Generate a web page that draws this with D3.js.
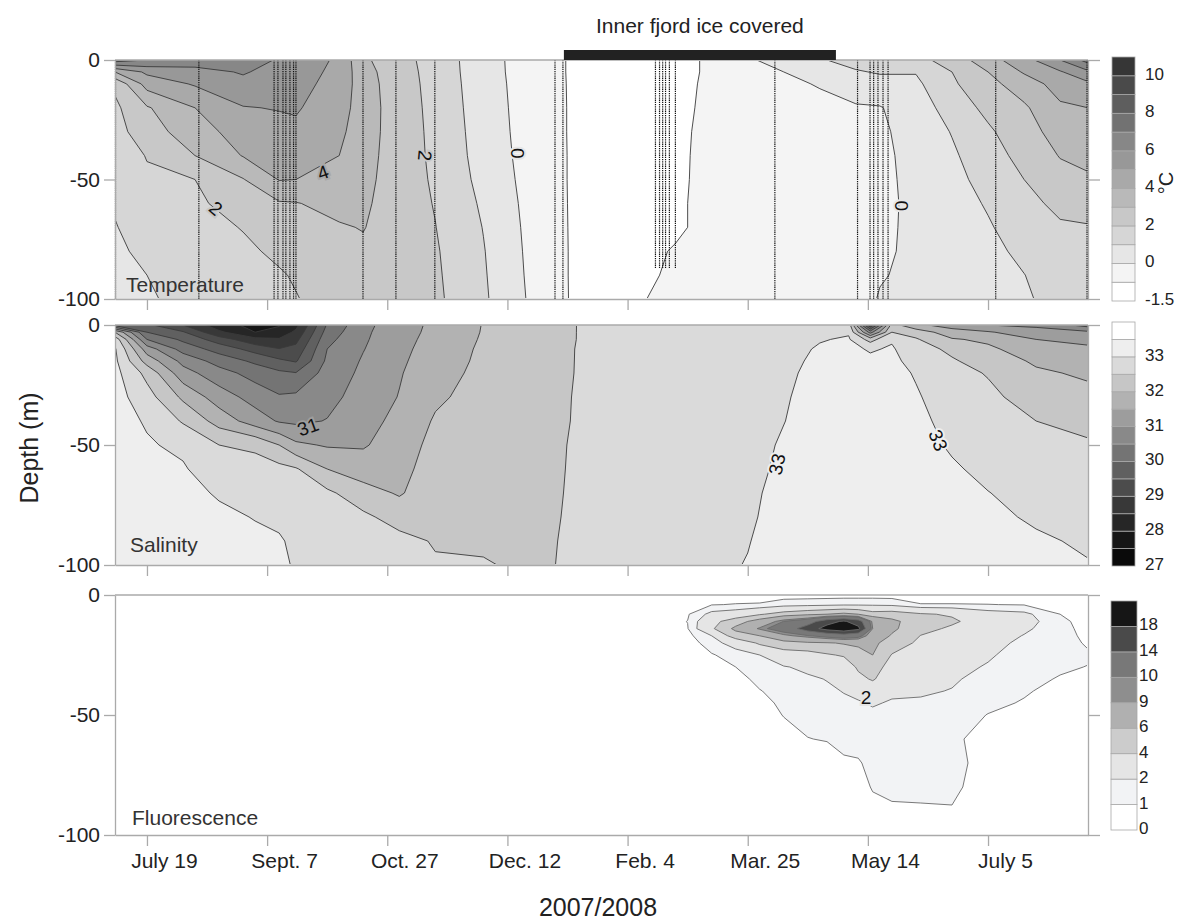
<!DOCTYPE html>
<html>
<head>
<meta charset="utf-8">
<script src="https://cdn.jsdelivr.net/npm/d3@7"></script>
<style>
  body { margin: 0; background: #fff; }
  text { font-family: "Liberation Sans", Arial, Helvetica, sans-serif; fill: #222; }
</style>
</head>
<body>
<div id="chart"></div>
<script>
// x axis: days after July 19 2007, labels every ~50 days
const tickDays = [0, 50, 100, 150, 200, 250, 300, 350];
const tickLabels = ["July 19", "Sept. 7", "Oct. 27", "Dec. 12", "Feb. 4", "Mar. 25", "May 14", "July 5"];
const dayRange = [-13.3, 391.6];
const iceCover = [173.5, 286.7];

// CTD casts (dotted lines on the temperature section)
const castDays = [-13.1, 21.6, 52.9, 54.5, 56.6, 57.8, 59.5, 61, 62, 89.9, 103.6, 119.8, 169.8, 173.1,
  211.6, 213.3, 214.6, 215.8, 217.4, 219.9, 261.3, 295.7, 300.9, 302.4, 304.2, 306.3, 308.4, 353.2, 391.2];
const castDepth = [-100, -100, -100, -100, -100, -100, -100, -100, -100, -100, -100, -100, -100, -100,
  -87, -87, -87, -87, -87, -87, -100, -100, -100, -100, -100, -100, -100, -100, -100];

// ---- temperature (deg C), one column per day, values top -> bottom
const tempDepths = [0, -5, -10, -20, -30, -40, -50, -60, -70, -80, -90, -100];
const tempDays = [-13.3, 0, 20, 40, 55, 62, 80, 90, 100, 120, 140, 160, 172, 180, 200, 220, 240, 250, 265, 280, 295, 305, 320, 335, 350, 365, 380, 391.6];
const tempCols = [
  [7.5, 4.0, 2.2, 1.8, 1.6, 1.4, 1.3, 1.1, 0.95, 0.8, 0.7, 0.6],
  [7.0, 5.2, 4.4, 2.9, 2.6, 2.05, 1.85, 1.65, 1.45, 1.25, 1.0, 0.9],
  [6.6, 5.6, 5.1, 4.0, 3.5, 3.0, 2.0, 1.8, 1.6, 1.5, 1.4, 1.3],
  [6.5, 6.1, 5.7, 4.95, 4.5, 4.05, 2.95, 2.5, 2.05, 1.8, 1.6, 1.5],
  [5.9, 5.6, 5.4, 5.05, 4.7, 4.3, 4.05, 2.9, 2.5, 2.2, 1.9, 1.8],
  [5.7, 5.5, 5.35, 5.1, 4.8, 4.4, 4.0, 2.95, 2.6, 2.35, 2.1, 1.95],
  [4.8, 4.7, 4.6, 4.4, 4.2, 4.0, 3.7, 3.35, 2.9, 2.7, 2.6, 2.5],
  [3.2, 3.4, 3.5, 3.55, 3.5, 3.45, 3.35, 3.2, 3.05, 2.8, 2.7, 2.6],
  [2.6, 2.7, 2.75, 2.8, 2.8, 2.75, 2.7, 2.65, 2.6, 2.55, 2.5, 2.4],
  [1.6, 1.62, 1.65, 1.7, 1.75, 1.8, 1.87, 1.95, 2.02, 2.1, 2.15, 2.2],
  [0.4, 0.42, 0.45, 0.5, 0.55, 0.6, 0.7, 0.85, 0.97, 1.05, 1.1, 1.15],
  [-0.5, -0.5, -0.48, -0.46, -0.44, -0.4, -0.36, -0.32, -0.28, -0.24, -0.2, -0.15],
  [-0.92, -0.92, -0.91, -0.9, -0.9, -0.89, -0.89, -0.88, -0.87, -0.86, -0.86, -0.85],
  [-1.2, -1.2, -1.2, -1.2, -1.2, -1.2, -1.2, -1.2, -1.2, -1.2, -1.2, -1.2],
  [-1.3, -1.3, -1.3, -1.3, -1.3, -1.3, -1.3, -1.3, -1.3, -1.25, -1.2, -1.1],
  [-1.3, -1.3, -1.25, -1.2, -1.15, -1.13, -1.12, -1.1, -1.1, -0.95, -0.9, -0.85],
  [-0.7, -0.7, -0.7, -0.7, -0.7, -0.7, -0.7, -0.7, -0.7, -0.7, -0.7, -0.7],
  [-0.1, -0.2, -0.3, -0.4, -0.45, -0.48, -0.5, -0.5, -0.52, -0.53, -0.54, -0.55],
  [0.3, 0.0, -0.15, -0.3, -0.4, -0.42, -0.44, -0.46, -0.47, -0.48, -0.49, -0.5],
  [0.9, 0.4, 0.05, -0.2, -0.35, -0.38, -0.4, -0.42, -0.43, -0.44, -0.45, -0.45],
  [1.4, 0.9, 0.5, -0.1, -0.3, -0.33, -0.35, -0.35, -0.33, -0.3, -0.3, -0.3],
  [1.6, 1.1, 0.6, -0.05, -0.15, -0.2, -0.2, -0.2, -0.15, -0.1, -0.05, 0.05],
  [1.7, 1.05, 0.8, 0.46, 0.35, 0.28, 0.22, 0.18, 0.15, 0.12, 0.15, 0.2],
  [2.4, 2.0, 1.85, 1.45, 1.05, 0.85, 0.7, 0.55, 0.45, 0.4, 0.35, 0.3],
  [3.6, 3.0, 2.7, 2.25, 1.85, 1.6, 1.35, 1.1, 0.9, 0.7, 0.6, 0.5],
  [4.6, 4.1, 3.5, 2.85, 2.6, 2.3, 2.0, 1.75, 1.5, 1.25, 0.98, 0.85],
  [6.0, 4.9, 4.4, 3.85, 3.4, 3.05, 2.65, 2.2, 1.9, 1.7, 1.55, 1.4],
  [7.4, 5.8, 4.8, 4.0, 3.6, 3.2, 2.9, 2.3, 1.95, 1.75, 1.6, 1.5]
];
const tempLevels = [-1.5, -1, 0, 1, 2, 3, 4, 5, 6, 7, 8, 9, 10, 11];
const tempColors = ["#ffffff", "#f4f4f4", "#e6e6e6", "#d6d6d6", "#c8c8c8", "#b9b9b9", "#a9a9a9",
  "#989898", "#878787", "#727272", "#5e5e5e", "#4a4a4a", "#363636"];
const tempBarTicks = [-1.5, 0, 2, 4, 6, 8, 10];
const tempLabels = [
  {t: "2", day: 28.7, depth: -62, rot: 40, level: 2},
  {t: "4", day: 73.2, depth: -47, rot: -20, level: 4},
  {t: "2", day: 115.7, depth: -40, rot: 95, level: 2},
  {t: "0", day: 154.4, depth: -39, rot: 90, level: 0},
  {t: "0", day: 314.2, depth: -61, rot: 90, level: 0}
];

// ---- salinity
const salDepths = [0, -3, -6, -10, -15, -20, -30, -40, -50, -60, -70, -80, -90, -100];
const salDays = [-13.3, 0, 15, 30, 45, 55, 62, 75, 90, 105, 120, 140, 160, 180, 220, 250, 265, 280, 292, 301, 310, 320, 335, 350, 370, 391.6];
const salCols = [
  [29.8, 32.0, 32.8, 33.05, 33.1, 33.15, 33.2, 33.2, 33.25, 33.25, 33.3, 33.3, 33.3, 33.3],
  [29.6, 30.0, 30.5, 31.25, 31.8, 32.35, 32.7, 32.95, 33.05, 33.1, 33.15, 33.2, 33.2, 33.25],
  [29.0, 29.55, 29.9, 30.3, 30.85, 31.2, 31.9, 32.45, 32.9, 33.05, 33.15, 33.2, 33.2, 33.25],
  [28.2, 28.6, 29.25, 29.8, 30.3, 30.7, 31.25, 31.8, 32.5, 32.7, 32.95, 33.1, 33.15, 33.2],
  [27.85, 28.0, 28.65, 29.3, 29.9, 30.3, 30.8, 31.25, 32.4, 32.7, 32.85, 32.98, 33.1, 33.15],
  [27.95, 28.2, 28.55, 29.02, 29.6, 30.1, 30.55, 30.95, 32.0, 32.65, 32.8, 32.9, 33.05, 33.1],
  [28.35, 28.6, 28.85, 29.15, 29.45, 30.02, 30.6, 30.9, 31.6, 32.55, 32.7, 32.8, 32.9, 32.95],
  [30.05, 30.2, 30.35, 30.5, 30.6, 30.7, 30.85, 31.02, 31.45, 32.0, 32.6, 32.75, 32.85, 32.9],
  [30.85, 30.9, 30.93, 30.98, 31.05, 31.1, 31.2, 31.3, 31.45, 31.75, 32.2, 32.6, 32.75, 32.85],
  [31.3, 31.32, 31.35, 31.38, 31.42, 31.46, 31.52, 31.65, 31.75, 31.85, 31.95, 32.3, 32.65, 32.75],
  [31.6, 31.62, 31.65, 31.7, 31.75, 31.82, 31.92, 32.05, 32.15, 32.22, 32.3, 32.38, 32.46, 32.55],
  [32.02, 32.03, 32.05, 32.08, 32.1, 32.12, 32.18, 32.22, 32.27, 32.32, 32.37, 32.42, 32.46, 32.52],
  [32.2, 32.21, 32.22, 32.23, 32.25, 32.27, 32.3, 32.33, 32.36, 32.38, 32.4, 32.42, 32.44, 32.45],
  [32.52, 32.52, 32.52, 32.53, 32.53, 32.53, 32.54, 32.54, 32.55, 32.55, 32.55, 32.55, 32.55, 32.55],
  [32.7, 32.7, 32.7, 32.7, 32.7, 32.7, 32.72, 32.72, 32.73, 32.74, 32.75, 32.76, 32.77, 32.78],
  [32.75, 32.76, 32.77, 32.78, 32.79, 32.8, 32.82, 32.83, 32.84, 32.85, 32.9, 32.93, 32.98, 33.02],
  [32.75, 32.77, 32.8, 32.83, 32.87, 32.9, 32.95, 32.99, 33.05, 33.1, 33.15, 33.18, 33.2, 33.2],
  [32.85, 32.9, 32.97, 33.05, 33.1, 33.15, 33.2, 33.2, 33.22, 33.22, 33.23, 33.24, 33.25, 33.25],
  [32.8, 32.95, 33.05, 33.12, 33.17, 33.2, 33.22, 33.22, 33.23, 33.23, 33.24, 33.24, 33.25, 33.25],
  [29.0, 30.8, 32.3, 32.95, 33.1, 33.15, 33.2, 33.22, 33.23, 33.23, 33.24, 33.24, 33.25, 33.25],
  [32.2, 32.5, 32.95, 33.05, 33.1, 33.15, 33.2, 33.22, 33.23, 33.23, 33.24, 33.24, 33.25, 33.25],
  [31.6, 32.3, 32.55, 32.7, 32.85, 32.96, 33.05, 33.12, 33.15, 33.18, 33.2, 33.22, 33.23, 33.25],
  [31.3, 31.7, 32.05, 32.4, 32.55, 32.65, 32.75, 32.85, 32.95, 33.05, 33.1, 33.15, 33.2, 33.22],
  [31.0, 31.55, 31.9, 32.1, 32.3, 32.47, 32.6, 32.7, 32.8, 32.9, 33.01, 33.08, 33.12, 33.15],
  [30.9, 31.2, 31.5, 31.7, 31.92, 32.08, 32.3, 32.5, 32.65, 32.75, 32.85, 32.95, 33.05, 33.1],
  [30.3, 31.1, 31.35, 31.6, 31.75, 31.92, 32.15, 32.38, 32.55, 32.65, 32.75, 32.85, 32.95, 33.02]
];
const salLevels = [27, 27.5, 28, 28.5, 29, 29.5, 30, 30.5, 31, 31.5, 32, 32.5, 33, 33.5, 34];
const salColors = ["#0a0a0a", "#161616", "#262626", "#383838", "#4c4c4c", "#606060", "#747474",
  "#898989", "#9d9d9d", "#b2b2b2", "#c6c6c6", "#dadada", "#eeeeee", "#ffffff"];
const salBarTicks = [27, 28, 29, 30, 31, 32, 33];
const salLabels = [
  {t: "31", day: 67, depth: -42.5, rot: -20, level: 31},
  {t: "33", day: 262.2, depth: -58, rot: -78, level: 33},
  {t: "33", day: 329.2, depth: -48, rot: 68, level: 33}
];

// ---- fluorescence
const fluoDepths = [0, -4, -8, -11, -14, -17, -20, -25, -30, -35, -40, -45, -50, -60, -70, -80, -90, -100];
const fluoDays = [-13.3, 200, 225, 235, 245, 255, 265, 275, 283, 290, 296, 302, 310, 322, 335, 350, 365, 380, 391.6];
const fluoCols = [
  [0, 0, 0, 0, 0, 0, 0, 0, 0, 0, 0, 0, 0, 0, 0, 0, 0, 0],
  [0, 0, 0, 0, 0, 0, 0, 0, 0, 0, 0, 0, 0, 0, 0, 0, 0, 0],
  [0, 0.3, 0.9, 1.02, 0.95, 0.7, 0.4, 0.1, 0, 0, 0, 0, 0, 0, 0, 0, 0, 0],
  [0.5, 0.95, 2.4, 3.4, 3.7, 2.0, 1.6, 0.9, 0.5, 0.2, 0, 0, 0, 0, 0, 0, 0, 0],
  [0.5, 1.05, 2.8, 5.0, 6.5, 5.0, 2.5, 1.5, 1.0, 0.6, 0.3, 0.1, 0, 0, 0, 0, 0, 0],
  [0.5, 1.1, 3.8, 7.0, 9.3, 6.0, 4.3, 2.0, 1.6, 1.3, 0.95, 0.7, 0.4, 0.1, 0, 0, 0, 0],
  [0.6, 1.5, 4.8, 10.05, 11.5, 8.5, 5.0, 3.2, 1.9, 1.6, 1.4, 1.2, 1.05, 0.5, 0.1, 0, 0, 0],
  [0.6, 1.6, 5.5, 12.0, 16.0, 9.8, 5.6, 3.2, 2.3, 1.8, 1.6, 1.4, 1.25, 0.98, 0.6, 0.2, 0, 0],
  [0.6, 1.7, 6.0, 16.5, 19.5, 11.0, 5.8, 3.8, 2.6, 2.05, 1.8, 1.6, 1.45, 1.05, 0.6, 0.2, 0, 0],
  [0.6, 1.8, 6.5, 18.5, 21.0, 12.0, 6.2, 4.2, 2.8, 2.3, 2.05, 1.8, 1.6, 1.3, 0.85, 0.4, 0, 0],
  [0.6, 1.8, 6.0, 16.0, 19.0, 11.0, 6.5, 5.0, 4.3, 3.5, 2.3, 1.9, 1.7, 1.4, 0.9, 0.5, 0.1, 0],
  [0.6, 1.8, 4.8, 8.5, 9.0, 7.5, 6.5, 6.0, 4.8, 4.2, 2.8, 2.1, 1.8, 1.5, 1.3, 1.1, 0.6, 0],
  [0.6, 1.7, 5.0, 6.5, 6.4, 5.8, 5.0, 3.9, 3.3, 2.8, 2.2, 1.9, 1.7, 1.5, 1.3, 1.15, 0.9, 0],
  [0.5, 1.05, 4.2, 4.8, 4.6, 3.95, 3.6, 3.2, 2.8, 2.5, 2.15, 1.85, 1.7, 1.5, 1.35, 1.2, 0.9, 0],
  [0.5, 1.05, 3.8, 4.3, 3.7, 3.2, 2.9, 2.6, 2.35, 2.15, 1.95, 1.7, 1.3, 1.2, 1.4, 1.3, 0.9, 0],
  [0.5, 1.02, 2.6, 3.0, 2.9, 2.6, 2.4, 2.15, 1.9, 1.6, 1.35, 1.15, 0.98, 0.6, 0.5, 0.3, 0, 0],
  [0.4, 0.95, 2.3, 2.5, 2.2, 1.95, 1.75, 1.5, 1.35, 1.2, 1.07, 0.95, 0.7, 0.3, 0.1, 0, 0, 0],
  [0.3, 0.6, 1.0, 1.3, 1.4, 1.4, 1.35, 1.25, 1.1, 0.95, 0.8, 0.6, 0.45, 0.2, 0, 0, 0, 0],
  [0.1, 0.2, 0.35, 0.5, 0.6, 0.75, 0.9, 1.1, 0.98, 0.8, 0.6, 0.4, 0.3, 0.1, 0, 0, 0, 0]
];
const fluoLevels = [0, 1, 2, 4, 6, 9, 10, 14, 18, 22];
const fluoColors = ["#ffffff", "#f2f3f5", "#e5e5e5", "#cccccc", "#b0b0b0", "#8e8e8e", "#787878", "#4a4a4a", "#161616"];
const fluoBarTicks = [0, 1, 2, 4, 6, 9, 10, 14, 18];
const fluoLabels = [
  {t: "2", day: 299.2, depth: -42.5, rot: 0, level: 2}
];

const panels = [
  {name: "Temperature", days: tempDays, depths: tempDepths, cols: tempCols, levels: tempLevels,
   colors: tempColors, barTicks: tempBarTicks, labels: tempLabels, top: 60, bottom: 299,
   bar: [57, 301], barX: 1112, barW: 23, tickX: 1145, line: "#3a3a3a", nameX: 126, nameY: 292},
  {name: "Salinity", days: salDays, depths: salDepths, cols: salCols, levels: salLevels,
   colors: salColors, barTicks: salBarTicks, labels: salLabels, top: 325, bottom: 565,
   bar: [322, 566], barX: 1112, barW: 23, tickX: 1145, line: "#3a3a3a", nameX: 130, nameY: 552},
  {name: "Fluorescence", days: fluoDays, depths: fluoDepths, cols: fluoCols, levels: fluoLevels,
   colors: fluoColors, barTicks: fluoBarTicks, labels: fluoLabels, top: 595, bottom: 835,
   bar: [601, 830], barX: 1111, barW: 26, tickX: 1139, line: "#6a6a6a", nameX: 132, nameY: 825}
];

const svg = d3.select("#chart").append("svg")
  .attr("width", 1184)
  .attr("height", 924);

const x = d3.scaleLinear().domain(dayRange).range([115, 1088]);
const frame = "#aaaaaa";

panels.forEach((p, idx) => {
  const y = d3.scaleLinear().domain([0, -100]).range([p.top, p.bottom]);
  const g = svg.append("g");

  // grid -> flat array, x fastest
  const n = p.days.length, m = p.depths.length;
  const values = [];
  for (let j = 0; j < m; j++) for (let i = 0; i < n; i++) values.push(p.cols[i][j]);

  // contour grid coordinates (cell centres at i+0.5) to pixels
  const gx = d3.scaleLinear()
    .domain([0, ...p.days.map((d, i) => i + 0.5), n])
    .range([x(p.days[0]), ...p.days.map(d => x(d)), x(p.days[n - 1])]);
  const gy = d3.scaleLinear()
    .domain([0, ...p.depths.map((d, j) => j + 0.5), m])
    .range([y(p.depths[0]), ...p.depths.map(d => y(d)), y(p.depths[m - 1])]);
  const path = d3.geoPath(d3.geoTransform({
    point: function(px, py) { this.stream.point(gx(px), gy(py)); }
  }));

  const bands = d3.contours()
    .size([n, m])
    .thresholds(p.levels.slice(0, -1))(values);

  g.append("rect")
    .attr("x", 115).attr("y", p.top)
    .attr("width", 1088 - 115).attr("height", p.bottom - p.top)
    .attr("fill", "#fff");

  g.selectAll("path.band")
    .data(bands)
    .enter().append("path")
      .attr("class", "band")
      .attr("d", path)
      .attr("fill", (d, i) => p.colors[i])
      .attr("fill-rule", "evenodd");

  // iso lines, clipped a hair inside the frame so the grid edge does not show
  svg.append("clipPath").attr("id", "clip" + idx)
    .append("rect")
      .attr("x", 116).attr("y", p.top + 1)
      .attr("width", 1088 - 117).attr("height", p.bottom - p.top - 2);
  g.append("g")
    .attr("clip-path", `url(#clip${idx})`)
    .selectAll("path")
    .data(bands.slice(1))
    .enter().append("path")
      .attr("d", path)
      .attr("fill", "none")
      .attr("stroke", p.line)
      .attr("stroke-width", 0.9);

  // casts
  if (idx == 0) {
    g.selectAll("line.cast")
      .data(castDays)
      .enter().append("line")
        .attr("class", "cast")
        .attr("x1", d => x(d)).attr("x2", d => x(d))
        .attr("y1", y(0))
        .attr("y2", (d, i) => y(castDepth[i]))
        .attr("stroke", "#111")
        .attr("stroke-width", 1.2)
        .attr("stroke-dasharray", "1.3,0.9");
  }

  // contour labels
  p.labels.forEach(l => {
    const k = p.levels.indexOf(l.level);
    g.append("text")
      .attr("transform", `translate(${x(l.day)},${y(l.depth)}) rotate(${l.rot})`)
      .attr("text-anchor", "middle")
      .attr("dy", "0.35em")
      .style("font-size", "19px")
      .style("fill", "#111")
      .style("stroke", p.colors[k])
      .style("stroke-width", 4)
      .style("paint-order", "stroke")
      .text(l.t);
  });

  // frame and axes
  g.append("line")
    .attr("x1", 115).attr("x2", 1088)
    .attr("y1", p.top).attr("y2", p.top)
    .attr("stroke", frame).attr("stroke-width", 1.3);

  const left = g.append("g")
    .attr("transform", "translate(115,0)")
    .call(d3.axisLeft(y).tickValues([0, -50, -100]).tickSize(11).tickSizeOuter(0).tickPadding(4)
      .tickFormat(d => String(d)));
  left.selectAll("text").style("font-size", "21px");

  const right = g.append("g")
    .attr("transform", "translate(1088,0)")
    .call(d3.axisRight(y).tickValues([0, -50, -100]).tickSize(12).tickSizeOuter(0).tickFormat(""));

  const bottom = g.append("g")
    .attr("transform", `translate(0,${p.bottom})`)
    .call(d3.axisBottom(x).tickValues(tickDays).tickSize(11).tickSizeOuter(0).tickPadding(7)
      .tickFormat((d, i) => idx == 2 ? tickLabels[i] : ""));
  bottom.selectAll("text").style("font-size", "21px").attr("dx", 17);

  [left, right, bottom].forEach(a => {
    a.select(".domain").attr("stroke", frame).attr("stroke-width", 1.3);
    a.selectAll(".tick line").attr("stroke", frame).attr("stroke-width", 1.3);
  });

  g.append("text")
    .attr("x", p.nameX).attr("y", p.nameY)
    .style("font-size", "21px")
    .style("fill", "#333")
    .text(p.name);

  // colour bar: equal boxes per band
  const nb = p.colors.length;
  const yb = d3.scaleLinear().domain([0, nb]).range([p.bar[1], p.bar[0]]);
  g.selectAll("rect.box")
    .data(p.colors)
    .enter().append("rect")
      .attr("class", "box")
      .attr("x", p.barX)
      .attr("y", (d, i) => yb(i + 1))
      .attr("width", p.barW)
      .attr("height", (d, i) => yb(i) - yb(i + 1))
      .attr("fill", d => d)
      .attr("stroke", "#a8a8a8")
      .attr("stroke-width", 0.8);
  g.selectAll("text.bt")
    .data(p.barTicks)
    .enter().append("text")
      .attr("class", "bt")
      .attr("x", p.tickX)
      .attr("y", d => yb(p.levels.indexOf(d)) - 2)
      .attr("dy", "0.35em")
      .style("font-size", "17px")
      .text(d => String(d));
});

// unit on the temperature bar
svg.append("text")
  .attr("transform", "translate(1166,183) rotate(-90)")
  .attr("text-anchor", "middle")
  .attr("dy", "0.35em")
  .style("font-size", "20px")
  .text("°C");

// ice cover bar and title
svg.append("rect")
  .attr("x", x(iceCover[0]))
  .attr("y", 50)
  .attr("width", x(iceCover[1]) - x(iceCover[0]))
  .attr("height", 10)
  .attr("fill", "#222");
svg.append("text")
  .attr("x", (x(iceCover[0]) + x(iceCover[1])) / 2)
  .attr("y", 33)
  .attr("text-anchor", "middle")
  .style("font-size", "21px")
  .text("Inner fjord ice covered");

svg.append("text")
  .attr("transform", "translate(38,448) rotate(-90)")
  .attr("text-anchor", "middle")
  .style("font-size", "25px")
  .text("Depth (m)");

svg.append("text")
  .attr("x", 598).attr("y", 916)
  .attr("text-anchor", "middle")
  .style("font-size", "25px")
  .text("2007/2008");
</script>
</body>
</html>
